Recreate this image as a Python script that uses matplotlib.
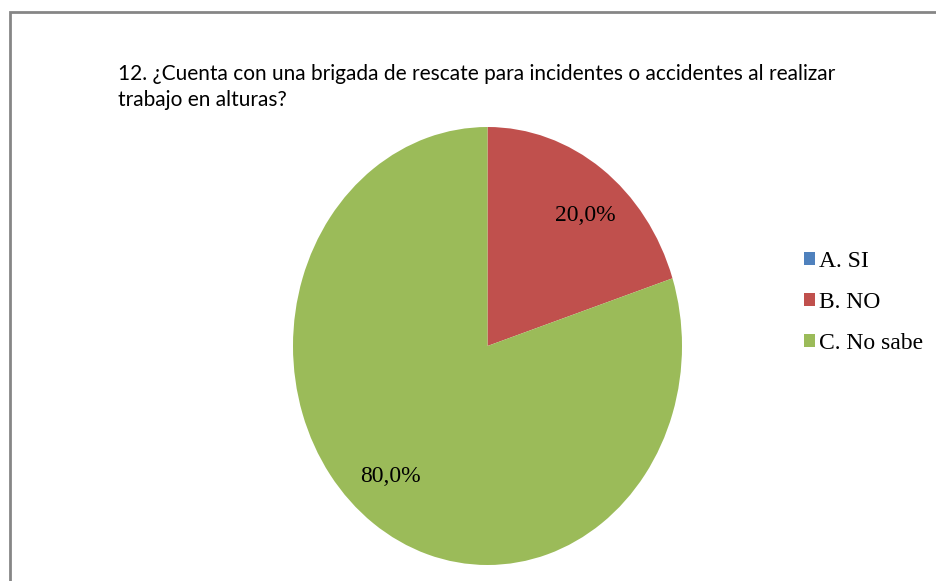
import numpy as np
import matplotlib.pyplot as plt
from matplotlib.patches import Rectangle

categorias = ["A. SI", "B. NO", "C. No sabe"]
porcentajes = [0.0, 20.0, 80.0]
colores = ["#4F81BD", "#C0504D", "#9BBB59"]
titulo = ("12. ¿Cuenta con una brigada de rescate para incidentes o accidentes al realizar\n"
          "trabajo en alturas?")

W, H = 937, 581
fig = plt.figure(figsize=(W / 100, H / 100), dpi=100)

# marco gris del grafico (se sale por derecha y abajo)
fig.patches.append(Rectangle((10 / W, -0.05), 1.2, 1 - 12 / H + 0.05,
                             transform=fig.transFigure, fill=False,
                             edgecolor="#868686", linewidth=2))

fig.text(118 / W, 1 - 64 / H, titulo, fontsize=15, family="Lato",
         va="top", ha="left", linespacing=1.38)


def etiqueta(p):
    if p < 0.05:
        return ""
    return f"{p:.1f}".replace(".", ",") + "%"


ax = fig.add_axes([293 / W, 1 - 565 / H, 389 / W, 438 / H])
wedges, textos, autotextos = ax.pie(porcentajes, colors=colores, startangle=90,
                                    counterclock=False, radius=1,
                                    autopct=etiqueta, pctdistance=0.78,
                                    wedgeprops=dict(linewidth=0))
# etiquetas un poco giradas respecto a la bisectriz, como en el original
for w, t in zip(wedges, autotextos):
    t.set_fontfamily("Liberation Serif")
    t.set_fontsize(17)
    ang = np.deg2rad((w.theta1 + w.theta2) / 2 - 4)
    t.set_position((0.78 * np.cos(ang), 0.78 * np.sin(ang)))
ax.set_aspect("auto")
ax.set_xlim(-1, 1)
ax.set_ylim(-1, 1)

fig.legend(wedges, categorias, loc="upper left",
           bbox_to_anchor=(804 / W, 1 - 251 / H), frameon=False,
           prop=dict(family="Liberation Serif", size=17),
           handlelength=0.45, handleheight=0.45, handletextpad=0.2,
           labelspacing=0.85, borderpad=0, borderaxespad=0)

fig.savefig("out.png", dpi=100)
